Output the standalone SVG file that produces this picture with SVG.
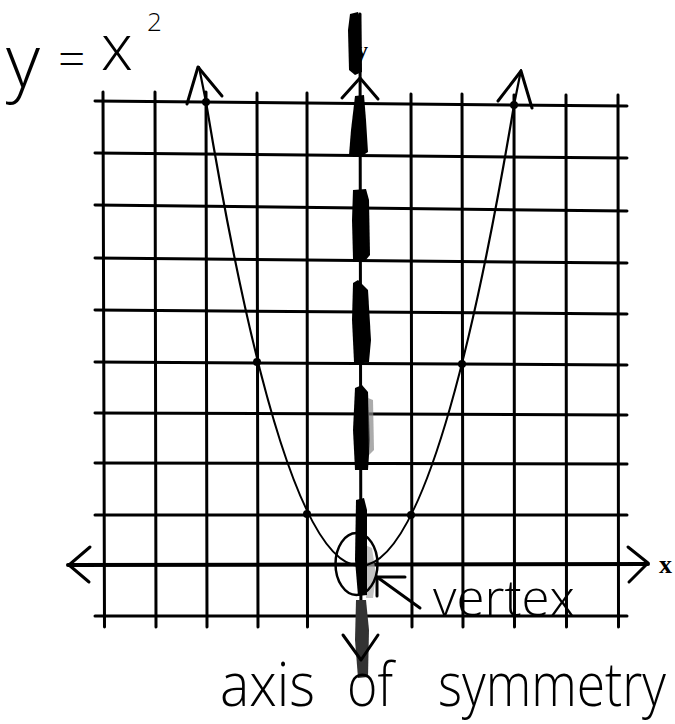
<svg xmlns="http://www.w3.org/2000/svg" width="675" height="724" viewBox="0 0 675 724">
<style>
.grid{stroke:#000;stroke-width:3;fill:none;stroke-linecap:round}
.xaxis{stroke:#000;stroke-width:4;fill:none;stroke-linecap:round}
.thin{stroke:#000;stroke-width:3;fill:none;stroke-linecap:round;stroke-linejoin:round}
.curve{stroke:#000;stroke-width:2.2;fill:none;stroke-linecap:round}
.dot{fill:#000}
.mark{fill:#000}
.hand{font-family:"Open Sans","Liberation Sans",sans-serif;font-weight:300;fill:#000}
.lbl{font-family:"Liberation Serif",serif;font-weight:bold;fill:#000}
</style>
<rect width="675" height="724" fill="#fff"/>
<g id="grid">
  <line class="grid" x1="95" y1="101" x2="627" y2="106"/>
  <line class="grid" x1="95" y1="153" x2="627" y2="158"/>
  <line class="grid" x1="95" y1="205" x2="627" y2="211"/>
  <line class="grid" x1="95" y1="258" x2="627" y2="263"/>
  <line class="grid" x1="95" y1="310" x2="627" y2="314"/>
  <line class="grid" x1="95" y1="362" x2="627" y2="365"/>
  <line class="grid" x1="95" y1="413" x2="627" y2="415"/>
  <line class="grid" x1="95" y1="463" x2="627" y2="464"/>
  <line class="grid" x1="95" y1="515" x2="627" y2="515"/>
  <line class="grid" x1="95" y1="616" x2="627" y2="616"/>
  <line class="grid" x1="103" y1="92" x2="104.5" y2="627"/>
  <line class="grid" x1="155" y1="92" x2="156" y2="627"/>
  <line class="grid" x1="206" y1="92" x2="207" y2="627"/>
  <line class="grid" x1="257" y1="93" x2="258" y2="627"/>
  <line class="grid" x1="307" y1="93" x2="307.5" y2="627"/>
  <line class="grid" x1="411" y1="94" x2="412" y2="627"/>
  <line class="grid" x1="462" y1="94" x2="463" y2="627"/>
  <line class="grid" x1="514" y1="95" x2="514.5" y2="627"/>
  <line class="grid" x1="566" y1="95" x2="566.5" y2="627"/>
  <line class="grid" x1="618" y1="95" x2="618.5" y2="627"/>
</g>
<g id="x-axis">
  <line class="xaxis" x1="68" y1="565" x2="648" y2="564"/>
  <polyline class="thin" points="90,547 69,565 89,582"/>
  <polyline class="thin" points="628,547 648,563 629,582"/>
  <text class="lbl" x="659" y="573" font-size="26">x</text>
</g>
<g id="axis-of-symmetry">
  <line class="thin" x1="360" y1="14" x2="361" y2="660"/>
  <polygon class="mark" points="350,14 358,12 361,20 362,72 355,75 349,70 348,30"/>
  <polygon class="mark" points="355,96 364,95 366,120 368,152 362,156 349,155 351,130"/>
  <polygon class="mark" points="353,190 366,189 369,200 370,255 365,261 353,259 352,220"/>
  <polygon class="mark" points="353,283 358,280 368,290 371,340 369,362 354,362 352,320"/>
  <polygon class="mark" points="355,388 362,385 368,392 370,440 368,470 355,470 353,430"/>
  <polygon fill="#888" opacity="0.7" points="368,398 373,400 374,450 369,455"/>
  <polygon fill="#aaa" opacity="0.7" points="365,545 372,548 376,575 373,598 366,598"/>
  <polygon class="mark" points="356,500 364,498 367,510 367,595 358,596 355,560"/>
  <polygon fill="#333" points="356,600 366,600 369,630 368,677 358,678 355,640"/>
  <polyline class="thin" points="342,98 360,78 378,99"/>
  <polyline class="thin" points="343,635 361,660 378,635"/>
  <text class="lbl" x="356" y="58" font-size="24">y</text>
</g>
<g id="parabola">
  <path class="curve" d="M199,67 L206,102 Q283,565 360,566 Q437,565 514,105 L521,70"/>
  <polyline class="thin" points="187,104 198,67 222,96"/>
  <polyline class="thin" points="498,101 521,71 532,108"/>
  <circle class="dot" cx="206" cy="102" r="4"/>
  <circle class="dot" cx="514" cy="105" r="4"/>
  <circle class="dot" cx="257" cy="362" r="4"/>
  <circle class="dot" cx="462" cy="364" r="4"/>
  <circle class="dot" cx="307" cy="514" r="4"/>
  <circle class="dot" cx="411" cy="515" r="4"/>
</g>
<g id="vertex-marker">
  <ellipse cx="356.5" cy="564" rx="21" ry="31" fill="none" stroke="#000" stroke-width="2.5"/>
</g>
<g id="connectors">
  <line class="thin" x1="420" y1="608" x2="377" y2="577"/>
  <polyline class="thin" points="405,577 377,577 377,596"/>
</g>
<g id="labels">
  <text class="hand"><tspan x="6" y="88" font-size="74">y</tspan><tspan x="58" y="76" font-size="48">=</tspan><tspan x="101" y="70" font-size="64">x</tspan><tspan x="147" y="31" font-size="26">2</tspan></text>
  <text class="hand" x="433" y="616" font-size="50" textLength="142" lengthAdjust="spacingAndGlyphs">vertex</text>
  <text class="hand" font-size="60"><tspan x="220" y="706" textLength="95" lengthAdjust="spacingAndGlyphs">axis</tspan><tspan x="347" y="706" textLength="46" lengthAdjust="spacingAndGlyphs">of</tspan><tspan x="438" y="706" textLength="228" lengthAdjust="spacingAndGlyphs">symmetry</tspan></text>
</g>
</svg>
